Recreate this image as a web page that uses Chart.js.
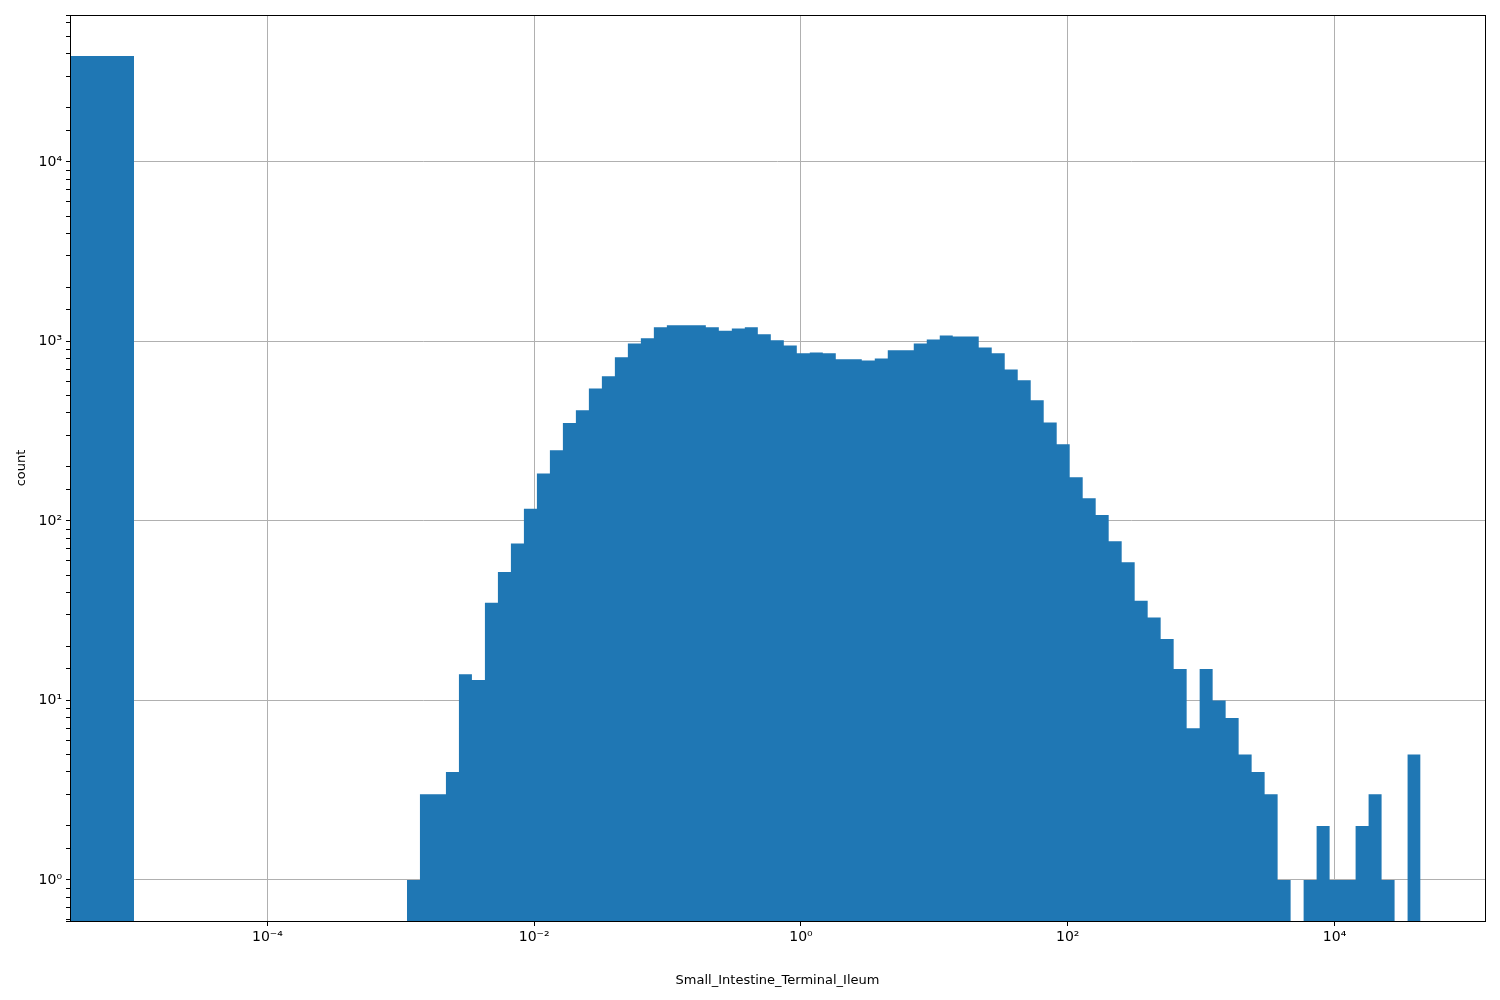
<!DOCTYPE html>
<html><head><meta charset="utf-8">
<script src="https://cdn.jsdelivr.net/npm/chart.js@4/dist/chart.umd.min.js"></script>
<style>html,body{margin:0;padding:0;background:#fff}#wrap{width:1500px;height:1000px}</style>
</head><body><div id="wrap"><canvas id="c" width="1500" height="1000"></canvas></div>
<script>
// histogram of Small_Intestine_Terminal_Ileum (log-spaced bins)
const zeroBinEdges = [1e-6, 1e-5];
const zeroBinCount = 38900;
const binLogStart = -2.954;
const binLogEnd = 4.645;
const counts = [1,3,3,4,14,13,35,52,75,117,184,248,351,414,547,640,817,975,1041,1199,1231,1231,1231,1199,1146,1181,1199,
  1096,1015,950,859,867,859,796,796,784,804,894,894,975,1025,1079,1067,1067,926,859,698,608,470,354,268,175,134,
  108,77,59,36,29,22,15,7,15,10,8,5,4,3,1,0,1,2,1,1,2,3,1,0,5];
const xTicks = [1e-4,1e-2,1,100,1e4];
const sup = {'-':'⁻','0':'⁰','1':'¹','2':'²','3':'³','4':'⁴','5':'⁵','6':'⁶','7':'⁷','8':'⁸','9':'⁹'};
const fmt = e => '10' + String(e).split('').map(ch => sup[ch]).join('');

const n = counts.length;
const w = (binLogEnd - binLogStart) / n;
const pts = [];
counts.forEach((c, i) => pts.push({x: Math.pow(10, binLogStart + i * w), y: c > 0 ? c : 1e-3}));
pts.push({x: Math.pow(10, binLogEnd), y: counts[n - 1]});
const zeroPts = [{x: zeroBinEdges[0], y: zeroBinCount}, {x: zeroBinEdges[1], y: zeroBinCount}];

const isPow = v => Math.abs(Math.log10(v) - Math.round(Math.log10(v))) < 1e-6;
const blue = '#1f77b4';
const frame = {id:'frame', afterDraw(ch){const a=ch.chartArea,x=ch.ctx;x.save();x.strokeStyle='#000';x.lineWidth=1;x.strokeRect(Math.round(a.left)+0.5,Math.round(a.top)+0.5,Math.round(a.right-a.left),Math.round(a.bottom-a.top));x.restore();}};

new Chart(document.getElementById('c'), {
  type: 'line',
  data: {datasets: [
    {data: zeroPts, stepped: true, fill: 'start', backgroundColor: blue, borderWidth: 0, pointRadius: 0},
    {data: pts, stepped: true, fill: 'start', backgroundColor: blue, borderWidth: 0, pointRadius: 0}
  ]},
  options: {
    responsive: false, animation: false,
    layout: {padding: {top: 15, right: 15, left: 0, bottom: 0}},
    plugins: {legend: {display: false}, tooltip: {enabled: false}},
    scales: {
      x: {
        type: 'logarithmic', z: 1,
        min: Math.pow(10, -5.48), max: Math.pow(10, 5.128),
        afterBuildTicks: s => { s.ticks = xTicks.map(v => ({value: v})); },
        afterFit: s => { s.height = 79; },
        ticks: {autoSkip: false, maxRotation: 0, color: '#000', font: {family: 'DejaVu Sans', size: 14}, padding: 3,
          callback: v => fmt(Math.round(Math.log10(v)))},
        grid: {color: '#b0b0b0', tickColor: '#000', tickLength: 5, lineWidth: 1},
        border: {display: false},
        title: {display: true, text: 'Small_Intestine_Terminal_Ileum', color: '#000', font: {family: 'DejaVu Sans', size: 13}, padding: {top: 6, bottom: 12}}
      },
      y: {
        type: 'logarithmic', z: 1,
        min: 0.591, max: 65900,
        afterFit: s => { s.width = 70; },
        ticks: {autoSkip: false, color: '#000', font: {family: 'DejaVu Sans', size: 14}, padding: 4,
          callback: v => isPow(v) ? fmt(Math.round(Math.log10(v))) : ''},
        grid: {color: c => isPow(c.tick.value) ? '#b0b0b0' : 'rgba(0,0,0,0)', tickColor: '#000', tickLength: 4, lineWidth: 1},
        border: {display: false},
        title: {display: true, text: 'count', color: '#000', font: {family: 'DejaVu Sans', size: 13}, padding: {top: 14, bottom: 0}}
      }
    }
  },
  plugins: [frame]
});
</script></body></html>
